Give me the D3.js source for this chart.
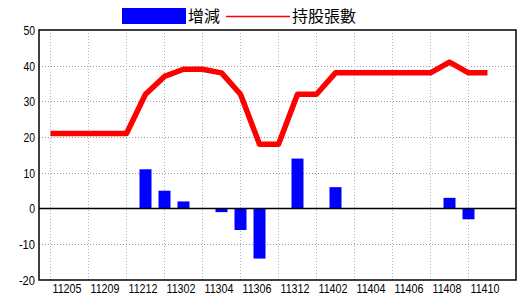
<!DOCTYPE html>
<html>
<head>
<meta charset="utf-8">
<script src="https://cdn.jsdelivr.net/npm/d3@7"></script>
<style>
  body { margin: 0; background: #fff; }
  svg text { font-family: "Liberation Sans", Arial, sans-serif; }
  .cjk { font-family: "Noto Sans CJK TC", sans-serif; }
</style>
</head>
<body>
<div id="chart"></div>
<script>
// months (ROC year + month), only every other one is labelled
const months = ["11205", "11207", "11209", "11211", "11212", "11301", "11302", "11303",
  "11304", "11305", "11306", "11309", "11312", "11401", "11402", "11403",
  "11404", "11405", "11406", "11407", "11408", "11409", "11410", "11411"];
const change = [0, 0, 0, 0, 0, 11, 5, 2, 0, -1, -6, -14, 0, 14, 0, 6, 0, 0, 0, 0, 0, 3, -3, 0];
const shares = [21, 21, 21, 21, 21, 32, 37, 39, 39, 38, 32, 18, 18, 32, 32, 38, 38, 38, 38, 38, 38, 41, 38, 38];
const yTicks = [-20, -10, 0, 10, 20, 30, 40, 50];

const width = 520, height = 300;
const box = { left: 39, right: 516, top: 30, bottom: 280 };

const svg = d3.select("#chart").append("svg")
  .attr("width", width)
  .attr("height", height);

const x = d3.scalePoint().domain(months).range([50.5, 487.5]);
const y = d3.scaleLinear().domain([-20, 50]).range([box.bottom, box.top]);

// grid
svg.append("g")
  .selectAll("line")
  .data(yTicks.filter((t) => t !== 0 && t !== -20 && t !== 50))
  .join("line")
  .attr("x1", box.left).attr("x2", box.right)
  .attr("y1", (d) => Math.round(y(d)) + 0.5).attr("y2", (d) => Math.round(y(d)) + 0.5)
  .attr("stroke", "#9a9a9a")
  .attr("stroke-dasharray", "1,2");

svg.append("g")
  .selectAll("line")
  .data(months.filter((m, i) => i % 2 === 0))
  .join("line")
  .attr("x1", (d) => x(d)).attr("x2", (d) => x(d))
  .attr("y1", box.top).attr("y2", box.bottom)
  .attr("stroke", "#9fbad0")
  .attr("stroke-dasharray", "1,2");

// bars
const barW = 12;
svg.append("g")
  .selectAll("rect")
  .data(months.map((m, i) => ({ m, v: change[i] })).filter((d) => d.v !== 0))
  .join("rect")
  .attr("x", (d) => x(d.m) - barW / 2)
  .attr("y", (d) => y(Math.max(0, d.v)))
  .attr("width", barW)
  .attr("height", (d) => Math.abs(y(d.v) - y(0)))
  .attr("fill", "#0000ff");

// zero line
svg.append("line")
  .attr("x1", box.left).attr("x2", box.right)
  .attr("y1", y(0)).attr("y2", y(0))
  .attr("stroke", "#000")
  .attr("stroke-width", 1.5);

// holdings line
const line = d3.line()
  .x((d, i) => x(months[i]))
  .y((d) => y(d));

svg.append("path")
  .datum(shares)
  .attr("d", line)
  .attr("fill", "none")
  .attr("stroke", "#ff0000")
  .attr("stroke-width", 5.5)
  .attr("stroke-linejoin", "round");

// frame
svg.append("rect")
  .attr("x", box.left).attr("y", box.top)
  .attr("width", box.right - box.left).attr("height", box.bottom - box.top)
  .attr("fill", "none")
  .attr("stroke", "#000")
  .attr("stroke-width", 1.5);

// y labels (narrow, like the original bitmap font)
svg.append("g")
  .selectAll("text")
  .data(yTicks)
  .join("text")
  .attr("x", 35)
  .attr("y", (d) => y(d))
  .attr("dy", "0.36em")
  .attr("text-anchor", "end")
  .attr("font-size", 13.5)
  .attr("textLength", (d) => String(Math.abs(d)).length * 5.8 + (d < 0 ? 4.5 : 0))
  .attr("lengthAdjust", "spacingAndGlyphs")
  .text((d) => d);

// x labels
svg.append("g")
  .selectAll("text")
  .data(months.filter((m, i) => i % 2 === 0))
  .join("text")
  .attr("x", (d) => x(d) + 2)
  .attr("y", 292.5)
  .attr("font-size", 13.5)
  .attr("textLength", 29)
  .attr("lengthAdjust", "spacingAndGlyphs")
  .text((d) => d);

// legend
const legend = svg.append("g");
legend.append("rect")
  .attr("x", 122).attr("y", 8)
  .attr("width", 64).attr("height", 16)
  .attr("fill", "#0000ff");
legend.append("text")
  .attr("class", "cjk")
  .attr("x", 188).attr("y", 22)
  .attr("font-size", 16)
  .text("增減");
legend.append("line")
  .attr("x1", 226).attr("x2", 290)
  .attr("y1", 16.5).attr("y2", 16.5)
  .attr("stroke", "#ff0000")
  .attr("stroke-width", 1.5);
legend.append("text")
  .attr("class", "cjk")
  .attr("x", 292).attr("y", 22)
  .attr("font-size", 16)
  .text("持股張數");
</script>
</body>
</html>
